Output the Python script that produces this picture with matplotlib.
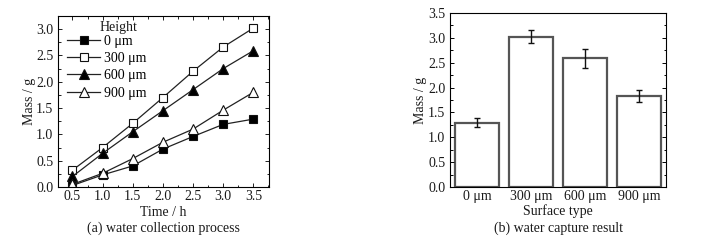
import matplotlib
matplotlib.use("Agg")
import matplotlib.pyplot as plt
from matplotlib.ticker import MultipleLocator

plt.rcParams['font.family'] = ['Liberation Serif', 'DejaVu Serif']

time_h = [0.5, 1.0, 1.5, 2.0, 2.5, 3.0, 3.5]
mass_0 = [0.03, 0.23, 0.40, 0.72, 0.96, 1.19, 1.29]
mass_300 = [0.32, 0.75, 1.21, 1.70, 2.20, 2.66, 3.02]
mass_600 = [0.20, 0.64, 1.05, 1.45, 1.85, 2.25, 2.59]
mass_900 = [0.05, 0.26, 0.54, 0.85, 1.10, 1.46, 1.80]
series_labels = ['0 μm', '300 μm', '600 μm', '900 μm']

surface_types = ['0 μm', '300 μm', '600 μm', '900 μm']
capture_mass = [1.29, 3.02, 2.59, 1.83]
capture_err = [0.09, 0.13, 0.19, 0.12]

txt = '#1a1a1a'
fs = 10

fig = plt.figure(figsize=(7.02, 2.41), dpi=100)
W, H = 702, 241

def ax_at(x0, y0, x1, y1):
    return fig.add_axes([x0 / W, 1 - y1 / H, (x1 - x0) / W, (y1 - y0) / H])

ax1 = ax_at(58, 16, 269, 187)
markers = [('s', 'k'), ('s', 'white'), ('^', 'k'), ('^', 'white')]
for data, lab, (m, fc) in zip([mass_0, mass_300, mass_600, mass_900], series_labels, markers):
    ax1.plot(time_h, data, color='#222222', lw=0.9, marker=m, markersize=6 if m == 's' else 6.8,
             markerfacecolor=fc, markeredgecolor='#111111', markeredgewidth=0.8, label=lab)
ax1.set_xlim(0.26, 3.76)
ax1.set_ylim(0, 3.25)
ax1.xaxis.set_major_locator(MultipleLocator(0.5))
ax1.yaxis.set_major_locator(MultipleLocator(0.5))
ax1.xaxis.set_minor_locator(MultipleLocator(0.25))
ax1.yaxis.set_minor_locator(MultipleLocator(0.25))
ax1.tick_params(which='both', direction='in', top=True, right=True, labelsize=fs, colors='#222222', labelcolor=txt, width=0.7)
ax1.tick_params(which='major', length=3)
ax1.tick_params(which='minor', length=1.8)
ax1.tick_params(axis='x', pad=2)
ax1.set_xlabel('Time / h', fontsize=fs, color=txt, labelpad=2)
ax1.set_ylabel('Mass / g', fontsize=fs, color=txt, labelpad=0)
leg = ax1.legend(loc='upper left', frameon=False, fontsize=fs,
                 handlelength=2.4, handletextpad=0.25, labelspacing=0.3, borderaxespad=0.0,
                 borderpad=0.0, bbox_to_anchor=((67 - 58) / 211, 1 - (35 - 16) / 171))
for sp in ax1.spines.values():
    sp.set_linewidth(0.8)
fig.text(100 / W, 1 - 27 / H, 'Height', ha='left', va='center', fontsize=fs, color=txt)
fig.text((58 + 269) / 2 / W, 1 - 228 / H, '(a) water collection process', ha='center', va='center',
         fontsize=fs, color=txt)

ax2 = ax_at(450, 13, 666, 187)
xpos = list(range(len(surface_types)))
ax2.bar(xpos, capture_mass, width=0.81, color='white', edgecolor='#555555', linewidth=1.6)
ax2.errorbar(xpos, capture_mass, yerr=capture_err, fmt='none', ecolor='#111111', elinewidth=1.0,
             capsize=2.5, capthick=1.0)
ax2.set_xlim(-0.5, 3.5)
ax2.set_ylim(0, 3.5)
ax2.set_xticks(xpos)
ax2.set_xticklabels(surface_types)
ax2.yaxis.set_major_locator(MultipleLocator(0.5))
ax2.yaxis.set_minor_locator(MultipleLocator(0.25))
ax2.tick_params(axis='y', which='both', direction='in', right=True, labelsize=fs, labelcolor=txt, width=0.7)
ax2.tick_params(axis='y', which='major', length=3)
ax2.tick_params(axis='y', which='minor', length=1.8)
ax2.tick_params(axis='x', length=0, labelsize=fs, labelcolor=txt, pad=2)
ax2.set_xlabel('Surface type', fontsize=fs, color=txt, labelpad=1)
ax2.set_ylabel('Mass / g', fontsize=fs, color=txt, labelpad=1)
for sp in ax2.spines.values():
    sp.set_linewidth(0.8)
fig.text((450 + 666) / 2 / W, 1 - 228 / H, '(b) water capture result', ha='center', va='center',
         fontsize=fs, color=txt)

fig.savefig('out.png', dpi=100)
